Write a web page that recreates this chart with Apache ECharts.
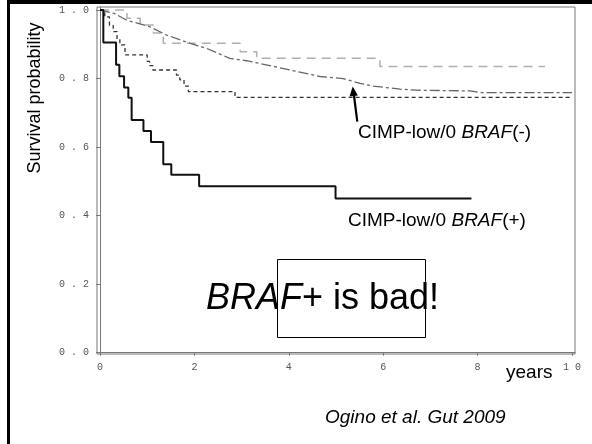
<!DOCTYPE html>
<html>
<head>
<meta charset="utf-8">
<script src="https://cdn.jsdelivr.net/npm/echarts@6/dist/echarts.min.js"></script>
<style>
html, body { margin: 0; padding: 0; background: #fff; }
#chart { width: 592px; height: 444px; }
</style>
</head>
<body>
<div id="chart"></div>
<script>
// tick positions
let xTicks = [0, 2, 4, 6, 8, 10];
let yTicks = [0, 0.2, 0.4, 0.6, 0.8, 1.0];

// CIMP-low/0 BRAF(+)  (solid black)
let lowPosT = [0, 0.07, 0.34, 0.41, 0.51, 0.60, 0.67, 0.92, 1.08, 1.34, 1.51, 2.10, 4.99, 7.87];
let lowPosS = [1, 0.905, 0.84, 0.807, 0.774, 0.744, 0.679, 0.647, 0.615, 0.55, 0.519, 0.486, 0.45, 0.45];

// short dashed dark curve
let shortT = [0, 0.10, 0.20, 0.28, 0.36, 0.42, 0.53, 1.00, 1.05, 1.12, 1.62, 1.69, 1.78, 1.87, 2.86, 10];
let shortS = [1, 0.98, 0.955, 0.937, 0.915, 0.898, 0.869, 0.85, 0.838, 0.825, 0.81, 0.796, 0.778, 0.762, 0.745, 0.745];

// CIMP-low/0 BRAF(-)  (gray dash-dot)
let lowNegT = [0, 0.30, 0.57, 1.06, 1.41, 1.91, 2.26, 2.75, 3.10, 3.39, 4.03, 4.66, 5.15, 5.51, 5.79, 6.36, 6.71, 7.84, 8.05, 10];
let lowNegS = [1, 0.99, 0.97, 0.951, 0.927, 0.903, 0.888, 0.859, 0.852, 0.844, 0.825, 0.806, 0.80, 0.786, 0.778, 0.769, 0.766, 0.764, 0.759, 0.759];

// light gray long dash curve
let lightT = [0, 0.57, 0.85, 1.13, 1.34, 2.97, 3.32, 5.93, 9.43];
let lightS = [1, 0.976, 0.956, 0.933, 0.903, 0.878, 0.859, 0.835, 0.835];

function zip(t, s) {
    let out = [];
    for (let i = 0; i < t.length; i++) out.push([t[i], s[i]]);
    return out;
}

function spaced(v) {
    return String(v).split('').join(' ');
}

let font = 'Liberation Sans, Arial, sans-serif';

let myChart = echarts.init(document.getElementById('chart'));

let option = {
    animation: false,
    grid: {
        left: 97, right: 17, top: 7, bottom: 90,
        show: true,
        borderColor: '#777',
        borderWidth: 1
    },
    xAxis: {
        type: 'value',
        min: -0.064,
        max: 10.064,
        splitLine: { show: false },
        axisLine: { lineStyle: { color: '#777' } },
        axisTick: { customValues: xTicks, length: 3, lineStyle: { color: '#777' } },
        axisLabel: {
            customValues: xTicks,
            margin: 8,
            color: '#555',
            fontFamily: 'Liberation Mono, monospace',
            fontSize: 10,
            formatter: v => spaced(Math.round(v))
        }
    },
    yAxis: {
        type: 'value',
        min: -0.0038,
        max: 1.0088,
        splitLine: { show: false },
        axisLine: { show: true, lineStyle: { color: '#777' } },
        axisTick: { show: true, customValues: yTicks, length: 4, lineStyle: { color: '#777' } },
        axisLabel: {
            customValues: yTicks,
            margin: 8,
            color: '#555',
            fontFamily: 'Liberation Mono, monospace',
            fontSize: 10,
            formatter: v => spaced(v.toFixed(1))
        }
    },
    series: [
        {
            name: 'light',
            type: 'line',
            step: 'end',
            symbol: 'none',
            data: zip(lightT, lightS),
            lineStyle: { color: '#b0b0b0', width: 1.5, type: [9, 6] }
        },
        {
            name: 'CIMP-low/0 BRAF(-)',
            type: 'line',
            symbol: 'none',
            data: zip(lowNegT, lowNegS),
            lineStyle: { color: '#666', width: 1.3, type: [10, 3, 3, 3] }
        },
        {
            name: 'short',
            type: 'line',
            step: 'end',
            symbol: 'none',
            data: zip(shortT, shortS),
            lineStyle: { color: '#333', width: 1.3, type: [4, 3] }
        },
        {
            name: 'CIMP-low/0 BRAF(+)',
            type: 'line',
            step: 'end',
            symbol: 'none',
            data: zip(lowPosT, lowPosS),
            lineStyle: { color: '#111', width: 2 }
        }
    ],
    graphic: [
        // slide frame
        { type: 'rect', shape: { x: 7, y: 0, width: 585, height: 4 }, style: { fill: '#000' } },
        { type: 'rect', shape: { x: 7, y: 0, width: 3, height: 444 }, style: { fill: '#000' } },
        {
            type: 'text', x: 35, y: 98, rotation: Math.PI / 2,
            style: { text: 'Survival probability', font: '18px ' + font, fill: '#000', align: 'center', verticalAlign: 'middle' }
        },
        {
            type: 'text', x: 506, y: 373,
            style: { text: 'years', font: '19px ' + font, fill: '#000', align: 'left', verticalAlign: 'middle' }
        },
        {
            type: 'text', x: 358, y: 133,
            style: {
                text: '{n|CIMP-low/0 }{i|BRAF}{n|(-)}',
                align: 'left', verticalAlign: 'middle',
                rich: {
                    n: { fontFamily: font, fontSize: 19, fill: '#000' },
                    i: { fontFamily: font, fontSize: 19, fontStyle: 'italic', fill: '#000' }
                }
            }
        },
        {
            type: 'text', x: 348, y: 221,
            style: {
                text: '{n|CIMP-low/0 }{i|BRAF}{n|(+)}',
                align: 'left', verticalAlign: 'middle',
                rich: {
                    n: { fontFamily: font, fontSize: 19, fill: '#000' },
                    i: { fontFamily: font, fontSize: 19, fontStyle: 'italic', fill: '#000' }
                }
            }
        },
        {
            type: 'text', x: 206, y: 299,
            style: {
                text: '{i|BRAF}{n|+ is bad!}',
                align: 'left', verticalAlign: 'middle',
                rich: {
                    n: { fontFamily: font, fontSize: 36, fill: '#000' },
                    i: { fontFamily: font, fontSize: 36, fontStyle: 'italic', fill: '#000' }
                }
            }
        },
        {
            type: 'rect', shape: { x: 277.5, y: 259.5, width: 148, height: 78 },
            style: { fill: 'none', stroke: '#000', lineWidth: 1 }
        },
        {
            type: 'text', x: 325, y: 418,
            style: { text: 'Ogino et al. Gut 2009', font: 'italic 19px ' + font, fill: '#000', align: 'left', verticalAlign: 'middle' }
        },
        // arrow
        {
            type: 'line', shape: { x1: 357.3, y1: 121.7, x2: 353.8, y2: 94 },
            style: { stroke: '#000', lineWidth: 2.2 }
        },
        {
            type: 'polygon', shape: { points: [[352.7, 86.5], [357.9, 95.5], [349.5, 96.5]] },
            style: { fill: '#000' }
        }
    ]
};

myChart.setOption(option);
</script>
</body>
</html>
